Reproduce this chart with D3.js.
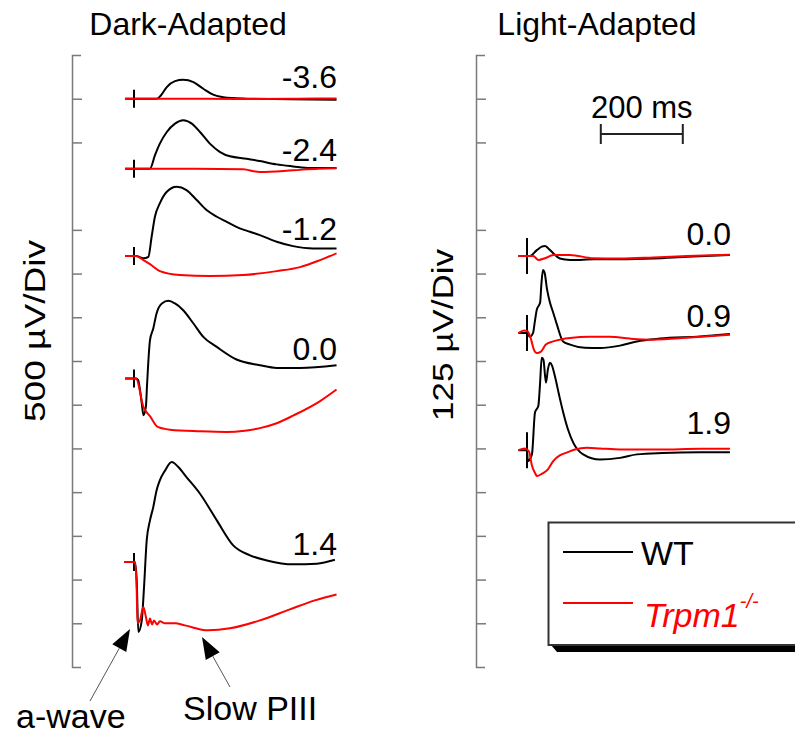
<!DOCTYPE html>
<html>
<head>
<meta charset="utf-8">
<script src="https://cdn.jsdelivr.net/npm/d3@7"></script>
<style>
  body { margin: 0; background: #fff; }
  svg { font-family: "Liberation Sans", Arial, sans-serif; }
</style>
</head>
<body>
<svg id="chart" width="795" height="737"></svg>
<script>
// flash intensities (log cd s/m2)
var darkLabels = ['-3.6', '-2.4', '-1.2', '0.0', '1.4'];
var lightLabels = ['0.0', '0.9', '1.9'];

// trace baselines in the original stacked plot (uV)
var darkOffsets = [6500, 5700, 4700, 3300, 1200];
var lightOffsets = [1175, 955, 620];

// [time ms, uV] pairs
var darkWT = [
    [[-22,0],[0,0],[56,0],[66,40],[80,133],[100,201],[120,217],[145,190],[169,114],[193,46],[218,18],[241,7],[280,0],[380,-5],[494,-12]],
    [[-22,0],[39,0],[51,152],[63,286],[80,419],[100,515],[120,553],[141,515],[161,419],[185,286],[210,190],[234,141],[275,114],[307,87],[348,49],[388,26],[429,7],[494,7]],
    [[-22,0],[5,0],[23,-26],[35,-8],[43,221],[51,450],[63,603],[80,736],[104,793],[128,755],[153,641],[177,526],[202,450],[226,392],[258,317],[283,278],[307,240],[348,164],[388,114],[437,88],[494,88]],
    [[-22,0],[5,0],[10,-19],[19,-286],[23,-420],[29,-325],[32,-57],[39,438],[47,572],[55,744],[68,858],[84,888],[100,858],[120,781],[145,629],[169,476],[202,361],[250,217],[307,152],[348,121],[405,121],[494,152]],
    [[-24,0],[2,0],[6.6,-209],[10.5,-801],[19,-667],[24,-324],[31,248],[39,477],[47,629],[55,820],[63,935],[76,1049],[92,1144],[108,1087],[128,972],[161,782],[202,477],[242,191],[283,77],[324,19],[388,-26],[446,-18],[490,27]]
];
var darkKO = [
    [[-22,0],[100,0],[250,-3],[400,0],[494,3]],
    [[-22,0],[150,0],[266,-8],[307,-39],[388,-19],[450,0],[494,4]],
    [[-22,0],[5,0],[23,-46],[39,-92],[63,-172],[112,-217],[185,-229],[266,-217],[348,-172],[405,-126],[454,-46],[494,31]],
    [[-22,0],[5,0],[23,-325],[39,-431],[58,-554],[88,-585],[161,-603],[226,-611],[270,-597],[307,-568],[348,-512],[388,-425],[454,-258],[494,-126]],
    [[-24,0],[2.4,0],[6.6,-324],[8.5,-698],[14.6,-667],[22.7,-515],[29.3,-633],[34,-724],[39,-644],[43.9,-713],[48.8,-667],[56,-713],[63.4,-678],[75.6,-701],[100,-701],[124,-724],[181,-781],[234,-758],[307,-667],[380,-541],[441,-438],[494,-370]]
];
var lightWT = [
    [[-21,0],[7,0],[24,17],[36,27],[44,29],[52,22],[64,8],[80,-7],[105,-11],[129,-11],[162,-9],[227,-9],[308,-7],[390,-2],[495,3]],
    [[-21,0],[0,0],[7,-11],[15,1],[19,32],[24,67],[32,87],[35,138],[39,180],[43,172],[49,124],[56,87],[64,58],[73,24],[88,-24],[105,-33],[141,-42],[178,-43],[227,-36],[268,-24],[324,-16],[422,-10],[495,-3]],
    [[-21,0],[0,0],[2,-31],[12,-12],[19.5,108],[27.6,126],[31.7,188],[35.9,264],[40,259],[46.3,193],[51,231],[56,250],[61,242],[68,212],[78,159],[88.5,107],[100,59],[113,21],[137,-12],[178,-27],[227,-22],[268,-12],[330,-8],[420,-6],[495,-6]]
];
var lightKO = [
    [[-21,0],[15,0],[28,-11],[44,-6],[64,3],[105,3],[162,-6],[227,-7],[308,-4],[390,0],[495,4]],
    [[-21,0],[-7,7],[2,4],[10,-19],[17,-48],[24,-57],[34,-53],[46,-33],[64,-24],[105,-14],[154,-11],[202,-11],[251,-16],[307,-19],[398,-13],[495,-5]],
    [[-21,0],[-5,5],[5,-4],[12,-44],[19.5,-65],[24,-74],[37,-67],[51,-55],[64,-31],[80,-15],[97,-7],[117,2],[146,7],[178,5],[227,2],[324,2],[422,4],[495,4]]
];

// divisions with a tick (div 11 has none in the original)
var tickDivs = [1, 2, 3, 4, 5, 6, 7, 8, 9, 10, 12, 13];

var svg = d3.select('#chart');

// layout
var darkX = d3.scaleLinear().domain([0, 200]).range([134, 216]);
var lightX = d3.scaleLinear().domain([0, 200]).range([527, 609]);
var darkY = d3.scaleLinear().domain([0, 7000]).range([667, 55]);
var lightY = d3.scaleLinear().domain([0, 1750]).range([667, 55]);
var darkLabelDy = [-11, -8, -16, -18, -7];
var lightLabelDy = [-11, -6, -16];

function drawAxis(xPos, yScale, perDiv) {
    var axis = d3.axisRight(yScale)
        .tickValues(tickDivs.map(function(d) { return d * perDiv; }))
        .tickSize(10)
        .tickSizeOuter(9)
        .tickFormat('');
    var g = svg.append('g')
        .attr('transform', 'translate(' + xPos + ',0)')
        .call(axis);
    g.selectAll('path, line').attr('stroke', '#7a7a7a').attr('stroke-width', 1.5);
}

function drawPanel(xScale, yScale, offsets, wt, ko, labels, labelDy, markLen, labelRight) {
    offsets.forEach(function(off, i) {
        var line = d3.line()
            .x(function(d) { return xScale(d[0]); })
            .y(function(d) { return yScale(d[1] + off); })
            .curve(d3.curveMonotoneX);

        // stimulus marker
        svg.append('line')
            .attr('x1', xScale(0)).attr('x2', xScale(0))
            .attr('y1', yScale(off) - markLen).attr('y2', yScale(off) + markLen)
            .attr('stroke', '#000').attr('stroke-width', 2);

        svg.append('path').datum(wt[i])
            .attr('d', line)
            .attr('fill', 'none').attr('stroke', '#000').attr('stroke-width', 2);
        svg.append('path').datum(ko[i])
            .attr('d', line)
            .attr('fill', 'none').attr('stroke', '#ff0000').attr('stroke-width', 2);

        svg.append('text')
            .attr('x', labelRight)
            .attr('y', yScale(off) + labelDy[i])
            .attr('text-anchor', 'end')
            .attr('font-size', 32)
            .text(labels[i]);
    });
}

drawAxis(72, darkY, 500);
drawAxis(476, lightY, 125);

drawPanel(darkX, darkY, darkOffsets, darkWT, darkKO, darkLabels, darkLabelDy, 9, 337);
drawPanel(lightX, lightY, lightOffsets, lightWT, lightKO, lightLabels, lightLabelDy, 18, 731);

// titles
svg.append('text').attr('x', 188).attr('y', 35).attr('text-anchor', 'middle')
    .attr('font-size', 32).text('Dark-Adapted');
svg.append('text').attr('x', 597).attr('y', 35).attr('text-anchor', 'middle')
    .attr('font-size', 32).text('Light-Adapted');

// y labels
svg.append('text').attr('transform', 'translate(45,331) rotate(-90)')
    .attr('text-anchor', 'middle').attr('font-size', 30)
    .attr('textLength', 182).attr('lengthAdjust', 'spacingAndGlyphs')
    .text('500 \u00b5V/Div');
svg.append('text').attr('transform', 'translate(453,335) rotate(-90)')
    .attr('text-anchor', 'middle').attr('font-size', 30)
    .attr('textLength', 172).attr('lengthAdjust', 'spacingAndGlyphs')
    .text('125 \u00b5V/Div');

// time scale bar
var barY = 134;
svg.append('path')
    .attr('d', 'M' + lightX(180) + ',' + (barY - 10) + 'V' + (barY + 10) +
        'M' + lightX(180) + ',' + barY + 'H' + lightX(380) +
        'M' + lightX(380) + ',' + (barY - 10) + 'V' + (barY + 10))
    .attr('stroke', '#222').attr('stroke-width', 2).attr('fill', 'none');
svg.append('text').attr('x', (lightX(180) + lightX(380)) / 2).attr('y', 118)
    .attr('text-anchor', 'middle').attr('font-size', 31).text('200 ms');

// annotation arrows
function arrow(x1, y1, x2, y2) {
    var ang = Math.atan2(y2 - y1, x2 - x1);
    var len = 22, half = 8;
    var bx = x2 - len * Math.cos(ang), by = y2 - len * Math.sin(ang);
    svg.append('line').attr('x1', x1).attr('y1', y1).attr('x2', bx).attr('y2', by)
        .attr('stroke', '#555').attr('stroke-width', 1);
    svg.append('path')
        .attr('d', 'M' + x2 + ',' + y2 +
            'L' + (bx + half * Math.sin(ang)) + ',' + (by - half * Math.cos(ang)) +
            'L' + (bx - half * Math.sin(ang)) + ',' + (by + half * Math.cos(ang)) + 'Z')
        .attr('fill', '#000');
}
arrow(90, 701, 130, 629);
arrow(230, 687, 202, 637);
svg.append('text').attr('x', 16).attr('y', 728).attr('font-size', 34).text('a-wave');
svg.append('text').attr('x', 183).attr('y', 720).attr('font-size', 34).text('Slow PIII');

// legend
svg.append('path')
    .attr('d', 'M551,645 H800 V652 H557 Z')
    .attr('fill', '#000');
svg.append('rect')
    .attr('x', 548.5).attr('y', 522.5).attr('width', 260).attr('height', 122.5)
    .attr('fill', '#fff').attr('stroke', '#333').attr('stroke-width', 2);
svg.append('line').attr('x1', 563).attr('x2', 633).attr('y1', 552).attr('y2', 552)
    .attr('stroke', '#000').attr('stroke-width', 2);
svg.append('line').attr('x1', 563).attr('x2', 633).attr('y1', 603).attr('y2', 603)
    .attr('stroke', '#ff0000').attr('stroke-width', 2);
svg.append('text').attr('x', 641).attr('y', 565).attr('font-size', 34).text('WT');
var ko = svg.append('text').attr('x', 644).attr('y', 627)
    .attr('font-size', 34).attr('font-style', 'italic').attr('fill', '#ff0000');
ko.append('tspan').text('Trpm1');
ko.append('tspan').attr('font-size', 20).attr('dy', -19).text('-/-');
</script>
</body>
</html>
